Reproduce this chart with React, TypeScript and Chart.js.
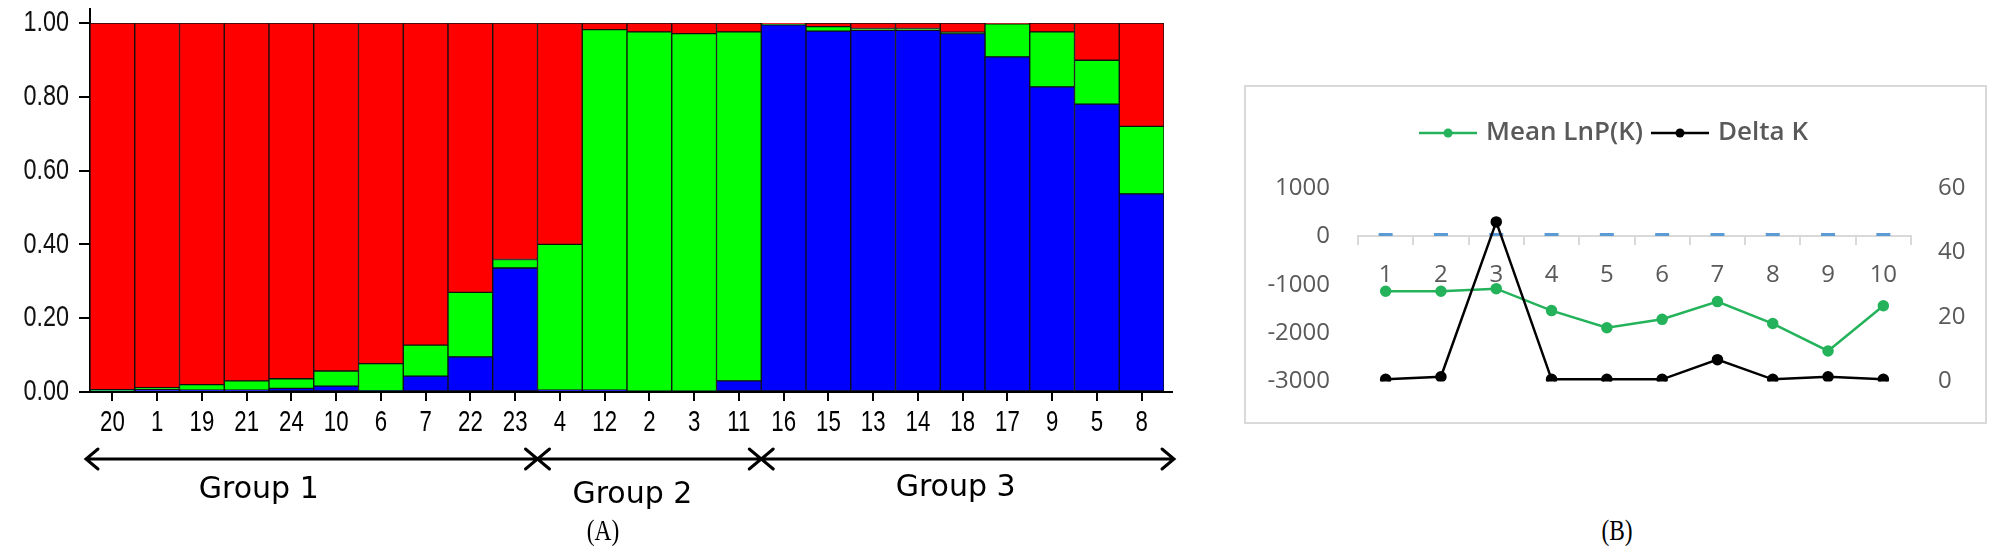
import React, { useEffect, useRef } from 'react';
import { Chart, registerables } from 'chart.js';

Chart.register(...registerables);

// ---------- Panel A data (STRUCTURE-like membership) ----------
const sampleLabels = ['20', '1', '19', '21', '24', '10', '6', '7', '22', '23', '4', '12', '2', '3', '11', '16', '15', '13', '14', '18', '17', '9', '5', '8'];
const blueShare = [0.003, 0.006, 0.005, 0.005, 0.010, 0.016, 0.003, 0.043, 0.095, 0.336, 0.005, 0.005, 0.002, 0.002, 0.030, 0.995, 0.978, 0.980, 0.980, 0.971, 0.908, 0.827, 0.780, 0.537];
const greenShare = [0.003, 0.006, 0.015, 0.025, 0.026, 0.041, 0.074, 0.084, 0.175, 0.023, 0.395, 0.977, 0.974, 0.969, 0.946, 0.002, 0.012, 0.005, 0.005, 0.004, 0.090, 0.149, 0.119, 0.183];
const redShare = [0.994, 0.988, 0.980, 0.970, 0.964, 0.943, 0.923, 0.873, 0.730, 0.641, 0.600, 0.018, 0.024, 0.029, 0.024, 0.003, 0.010, 0.015, 0.015, 0.025, 0.002, 0.024, 0.101, 0.280];
const groupNames = ['Group 1', 'Group 2', 'Group 3'];
const groupSizes = [10, 5, 9];

// ---------- Panel B data (Evanno) ----------
const kLabels = ['1', '2', '3', '4', '5', '6', '7', '8', '9', '10'];
const meanLnP = [-1133, -1133, -1080, -1533, -1887, -1713, -1347, -1800, -2367, -1433];
const deltaK = [0.7, 1.5, 49.5, 0.7, 0.7, 0.7, 6.8, 0.7, 1.5, 0.7];
const zeroMarks = [40, 40, 40, 40, 40, 40, 40, 40, 40, 40];

const SANS = "'Liberation Sans', Arial, sans-serif";
const OPEN = "'Open Sans', 'Noto Sans', sans-serif";
const GREEN = '#24b35b';

// Panel A: narrow tick labels drawn at the scale's tick positions, plus group arrows
const groupArrows = {
  id: 'groupArrows',
  afterDraw(chart: any) {
    const { ctx, chartArea, scales } = chart;
    const x = scales.x;
    const y = scales.y;
    const half = (x.getPixelForValue(1) - x.getPixelForValue(0)) / 2;
    ctx.save();
    ctx.strokeStyle = '#000';
    ctx.lineWidth = 2;
    ctx.beginPath();
    ctx.moveTo(chartArea.left, chartArea.top);
    ctx.lineTo(chartArea.left, chartArea.top - 15);
    ctx.moveTo(chartArea.left - 11, chartArea.bottom);
    ctx.lineTo(chartArea.right + 9, chartArea.bottom);
    ctx.stroke();

    // tick labels (condensed)
    ctx.fillStyle = '#000';
    ctx.font = `30px ${SANS}`;
    ctx.textBaseline = 'middle';
    ctx.textAlign = 'center';
    x.ticks.forEach((t: any, i: number) => {
      const px = x.getPixelForTick(i);
      ctx.save();
      ctx.translate(px, chartArea.bottom + 31);
      ctx.scale(0.74, 1);
      ctx.fillText(String(x.getLabelForValue(t.value)), 0, 0);
      ctx.restore();
    });
    ctx.fillStyle = '#111';
    ctx.textAlign = 'right';
    y.ticks.forEach((t: any, i: number) => {
      const py = y.getPixelForTick(i);
      ctx.save();
      ctx.translate(chartArea.left - 21, py);
      ctx.scale(0.78, 1);
      ctx.fillText(Number(t.value).toFixed(2), 0, 0);
      ctx.restore();
    });

    const ay = 459;
    const labelY = [490, 495, 488];
    const labelDx = [-53, -17, -12];
    ctx.lineWidth = 3;
    ctx.lineCap = 'round';
    ctx.fillStyle = '#000';
    let start = 0;
    groupSizes.forEach((n, gi) => {
      const x0 = gi === 0 ? chartArea.left - 4 : x.getPixelForValue(start) - half;
      const x1 = gi === groupSizes.length - 1 ? chartArea.right + 10 : x.getPixelForValue(start + n - 1) + half;
      ctx.beginPath();
      ctx.moveTo(x0, ay);
      ctx.lineTo(x1, ay);
      ctx.moveTo(x0 + 12, ay - 10);
      ctx.lineTo(x0, ay);
      ctx.lineTo(x0 + 12, ay + 10);
      ctx.moveTo(x1 - 12, ay - 10);
      ctx.lineTo(x1, ay);
      ctx.lineTo(x1 - 12, ay + 10);
      ctx.stroke();
      ctx.font = "30px 'DejaVu Sans', sans-serif";
      ctx.textAlign = 'center';
      ctx.textBaseline = 'middle';
      ctx.fillText(groupNames[gi], (x0 + x1) / 2 + labelDx[gi], labelY[gi]);
      start += n;
    });
    ctx.restore();
  },
};

const legendSpacer = {
  id: 'legendSpacer',
  beforeInit(chart: any) {
    const lg = chart.legend;
    if (!lg) return;
    const fit = lg.fit;
    lg.fit = function () {
      fit.call(this);
      this.height = 80;
    };
  },
};

function makeMarker(color: string) {
  const c = document.createElement('canvas');
  c.width = 58;
  c.height = 12;
  const g = c.getContext('2d')!;
  g.strokeStyle = color;
  g.lineWidth = 2.5;
  g.beginPath();
  g.moveTo(0, 6);
  g.lineTo(58, 6);
  g.stroke();
  g.fillStyle = color;
  g.beginPath();
  g.arc(29, 6, 4.5, 0, Math.PI * 2);
  g.fill();
  return c;
}

export default function App() {
  const refA = useRef<HTMLCanvasElement>(null);
  const refB = useRef<HTMLCanvasElement>(null);

  useEffect(() => {
    const chartA = new Chart(refA.current!, {
      type: 'bar',
      data: {
        labels: sampleLabels,
        datasets: [
          { label: 'Cluster 3', data: blueShare, backgroundColor: '#0000ff' },
          { label: 'Cluster 2', data: greenShare, backgroundColor: '#00ff00' },
          { label: 'Cluster 1', data: redShare, backgroundColor: '#ff0000' },
        ],
      },
      options: {
        responsive: false,
        animation: false,
        events: [],
        layout: { padding: { top: 23, right: 26, left: 0, bottom: 104 } },
        plugins: { legend: { display: false }, tooltip: { enabled: false } },
        datasets: {
          bar: {
            barPercentage: 1,
            categoryPercentage: 1,
            borderColor: '#111',
            borderWidth: 1,
            borderSkipped: false,
          },
        },
        scales: {
          x: {
            stacked: true,
            grid: { display: true, drawOnChartArea: false, drawTicks: true, tickLength: 9, color: '#000', lineWidth: 2, offset: false },
            border: { display: true, color: '#000', width: 2 },
            ticks: { display: false, autoSkip: false, maxRotation: 0 },
            afterFit(s: any) { s.height = 60; },
          },
          y: {
            stacked: true,
            min: 0,
            max: 1,
            ticks: { display: false, stepSize: 0.2 },
            grid: { display: true, drawOnChartArea: false, drawTicks: true, tickLength: 11, color: '#000', lineWidth: 2 },
            border: { display: true, color: '#000', width: 2 },
            afterFit(s: any) { s.width = 90; },
          },
        },
      } as any,
      plugins: [groupArrows],
    });

    const markers = [makeMarker(GREEN), makeMarker('#000')];
    const axisFont = { family: OPEN, size: 24 };
    const chartB = new Chart(refB.current!, {
      type: 'line',
      data: {
        labels: kLabels,
        datasets: [
          {
            label: 'Mean LnP(K)', data: meanLnP, yAxisID: 'y', borderColor: GREEN, backgroundColor: GREEN,
            pointBackgroundColor: GREEN, pointBorderColor: GREEN, borderWidth: 2.5, pointRadius: 4.5, order: 2,
          },
          {
            label: 'Delta K', data: deltaK, yAxisID: 'y1', borderColor: '#000', backgroundColor: '#000',
            pointBackgroundColor: '#000', pointBorderColor: '#000', borderWidth: 2.5, pointRadius: 4.5, order: 1,
          },
          {
            label: 'zero', data: zeroMarks, yAxisID: 'y', showLine: false, pointStyle: 'line', pointRadius: 7,
            pointBorderWidth: 3, borderColor: '#5b9bd5', pointBorderColor: '#5b9bd5', order: 3,
          },
        ],
      },
      options: {
        responsive: false,
        animation: false,
        events: [],
        layout: { padding: { top: 23, bottom: 36, left: 0, right: 0 } },
        plugins: {
          tooltip: { enabled: false },
          legend: {
            display: true,
            position: 'top',
            labels: {
              usePointStyle: true,
              pointStyleWidth: 50,
              boxHeight: 12,
              padding: 12,
              color: '#595959',
              font: { family: OPEN, size: 26, weight: '600' },
              generateLabels(chart: any) {
                return chart.data.datasets.slice(0, 2).map((ds: any, i: number) => ({
                  text: ds.label,
                  fillStyle: ds.borderColor,
                  strokeStyle: ds.borderColor,
                  lineWidth: 0,
                  pointStyle: markers[i],
                  hidden: false,
                  datasetIndex: i,
                  fontColor: '#595959',
                }));
              },
            },
          },
        },
        scales: {
          x: {
            position: { y: 0 },
            offset: true,
            grid: { display: true, drawOnChartArea: false, drawTicks: true, tickLength: 8, color: '#d9d9d9', lineWidth: 2, offset: true },
            border: { display: true, color: '#d9d9d9', width: 2 },
            ticks: { color: '#595959', font: axisFont, padding: 16, maxRotation: 0 },
          },
          y: {
            position: 'left',
            min: -3000,
            max: 1000,
            ticks: { stepSize: 1000, color: '#595959', font: axisFont, padding: 28, callback: (v: any) => String(v) },
            grid: { display: false, drawTicks: false },
            border: { display: false },
            afterFit(s: any) { s.width = 114; },
          },
          y1: {
            position: 'right',
            min: 0,
            max: 60,
            ticks: { stepSize: 20, color: '#595959', font: axisFont, padding: 27, callback: (v: any) => String(v) },
            grid: { display: false, drawTicks: false },
            border: { display: false },
            afterFit(s: any) { s.width = 76; },
          },
        },
      } as any,
      plugins: [legendSpacer],
    });

    return () => {
      chartA.destroy();
      chartB.destroy();
    };
  }, []);

  const caption: React.CSSProperties = {
    position: 'absolute',
    transform: 'translate(-50%, -50%) scaleX(0.78)',
    fontFamily: "'Liberation Serif', 'Times New Roman', serif",
    fontSize: 30,
    color: '#000',
    lineHeight: 1,
    whiteSpace: 'nowrap',
  };

  return (
    <div style={{ position: 'absolute', left: 0, top: 0, width: 2008, height: 556, background: '#fff', overflow: 'hidden' }}>
      <canvas ref={refA} width={1190} height={556} style={{ position: 'absolute', left: 0, top: 0, width: 1190, height: 556 }} />
      <div style={{ position: 'absolute', left: 1244, top: 85, width: 743, height: 339, border: '2px solid #d9d9d9', boxSizing: 'border-box' }} />
      <canvas ref={refB} width={743} height={339} style={{ position: 'absolute', left: 1244, top: 85, width: 743, height: 339 }} />
      <div style={{ ...caption, left: 603, top: 530 }}>(A)</div>
      <div style={{ ...caption, left: 1617, top: 530 }}>(B)</div>
    </div>
  );
}
